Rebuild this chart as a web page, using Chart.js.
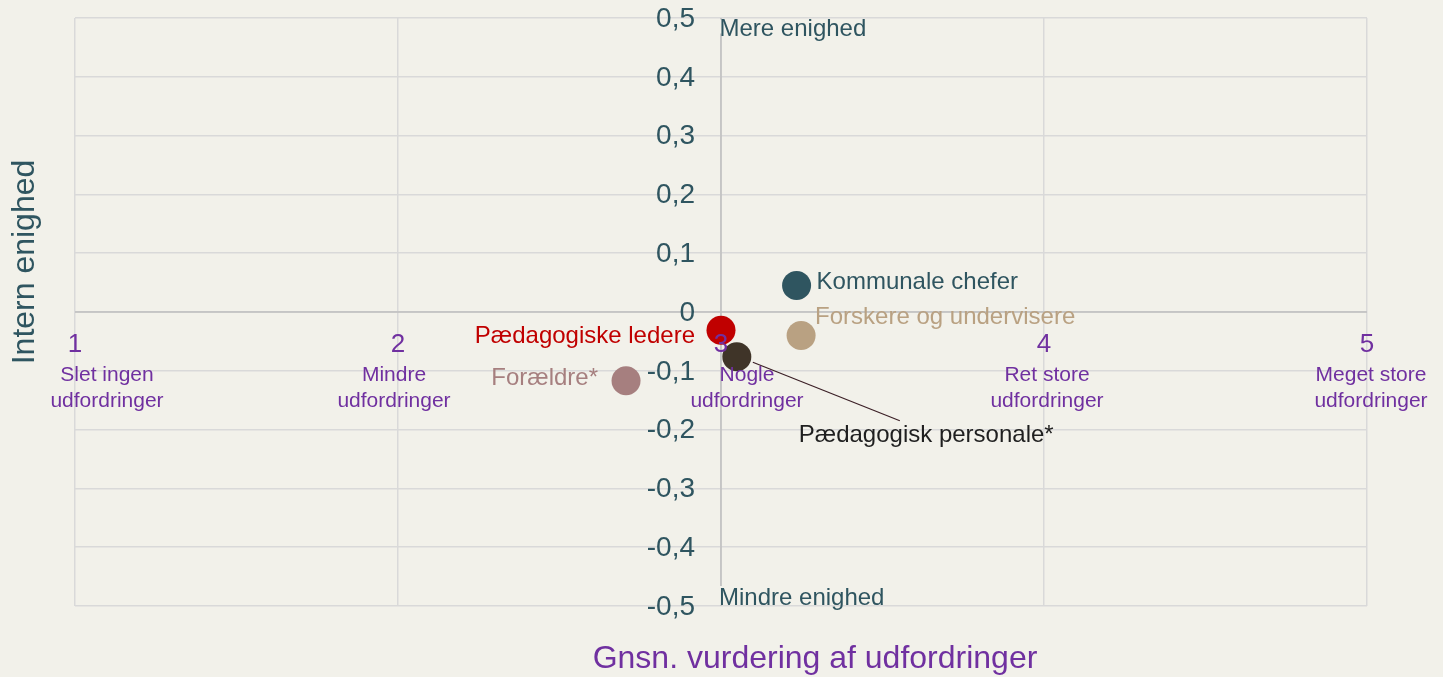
<!DOCTYPE html>
<html lang="da">
<head>
<meta charset="utf-8">
<title>Udfordringer og intern enighed</title>
<script src="https://cdn.jsdelivr.net/npm/chart.js@4.4.1/dist/chart.umd.min.js"></script>
<style>
    html, body { margin: 0; padding: 0; background: #f2f1ea; }
    #wrap { width: 1443px; height: 677px; position: relative; }
</style>
</head>
<body>
<div id="wrap"><canvas id="scatter"></canvas></div>
<script>
// Grupper og deres placering (gnsn. vurdering, intern enighed)
const groups = ['Kommunale chefer', 'Forskere og undervisere', 'Pædagogiske ledere', 'Pædagogisk personale*', 'Forældre*'];
const challengeScores = [3.234, 3.248, 3.0, 3.049, 2.706];
const agreementScores = [0.045, -0.040, -0.031, -0.076, -0.117];

const xTicks = [1, 2, 3, 4, 5];
const xTickNames = [['Slet ingen', 'udfordringer'], ['Mindre', 'udfordringer'], ['Nogle', 'udfordringer'], ['Ret store', 'udfordringer'], ['Meget store', 'udfordringer']];
const yTicks = [0.5, 0.4, 0.3, 0.2, 0.1, 0, -0.1, -0.2, -0.3, -0.4, -0.5];

const dotColors = ['#2f5560', '#b9a182', '#c00000', '#3f3428', '#a67f7f'];
const textColors = ['#2f5560', '#b9a182', '#c00000', '#1f1f1f', '#a67f7f'];
// label offsets from the dot centre: [dx, dy, align]
const labelPlacement = [[20, -3, 'left'], [14, -18, 'left'], [-26, 6, 'right'], [62, 79, 'left'], [-28, -2, 'right']];
const subNudge = [32, -4, 26, 3, 4];

const FONT = '"Liberation Sans", Arial, Helvetica, sans-serif';
const BG = '#f2f1ea';
const TEAL = '#2f5560';
const PURPLE = '#7030a0';

function fmt(v) {
    if (Math.abs(v) < 1e-9) return '0';
    return v.toFixed(1).replace('.', ',');
}

const annotations = {
    id: 'annotations',
    beforeDatasetsDraw(chart) {
        const { ctx, scales: { x, y } } = chart;
        const x3 = x.getPixelForValue(3);

        // centre axes
        ctx.save();
        ctx.strokeStyle = '#bfbfbf';
        ctx.lineWidth = 1.5;
        ctx.beginPath();
        ctx.moveTo(x3, y.getPixelForValue(0.5));
        ctx.lineTo(x3, y.getPixelForValue(-0.5));
        ctx.moveTo(x.getPixelForValue(1), y.getPixelForValue(0));
        ctx.lineTo(x.getPixelForValue(5), y.getPixelForValue(0));
        ctx.stroke();

        // boxed captions at the ends of the vertical axis
        ctx.font = '24px ' + FONT;
        ctx.textAlign = 'left';
        ctx.textBaseline = 'middle';
        const top = y.getPixelForValue(0.5);
        const bottom = y.getPixelForValue(-0.5);
        let w = ctx.measureText('Mere enighed').width;
        ctx.fillStyle = BG;
        ctx.fillRect(x3 - 3, top + 1.5, w + 6, 14);
        ctx.fillStyle = TEAL;
        ctx.fillText('Mere enighed', x3 - 1.5, top + 11);
        w = ctx.measureText('Mindre enighed').width;
        ctx.fillStyle = BG;
        ctx.fillRect(x3 - 3, bottom - 20, w + 6, 19);
        ctx.fillStyle = TEAL;
        ctx.fillText('Mindre enighed', x3 - 2, bottom - 8);

        // leader line to the personale label
        const px = x.getPixelForValue(challengeScores[3]);
        const py = y.getPixelForValue(agreementScores[3]);
        ctx.strokeStyle = '#3b1f26';
        ctx.lineWidth = 1.2;
        ctx.beginPath();
        ctx.moveTo(px + 16, py + 5.5);
        ctx.lineTo(px + 163, py + 64);
        ctx.stroke();
        ctx.restore();
    },
    afterDatasetsDraw(chart) {
        const { ctx, scales: { x, y } } = chart;
        const x3 = x.getPixelForValue(3);
        const y0 = y.getPixelForValue(0);
        ctx.save();

        // y tick labels along the centre axis
        ctx.font = '28px ' + FONT;
        ctx.fillStyle = TEAL;
        ctx.textAlign = 'right';
        ctx.textBaseline = 'middle';
        yTicks.forEach(v => ctx.fillText(fmt(v), x3 - 26, y.getPixelForValue(v) + 1));

        // x tick labels below the zero line
        ctx.fillStyle = PURPLE;
        ctx.textAlign = 'center';
        xTicks.forEach((v, i) => {
            const px = x.getPixelForValue(v);
            ctx.font = '26px ' + FONT;
            ctx.fillText(String(v), px, y0 + 33);
            ctx.font = '21px ' + FONT;
            xTickNames[i].forEach((line, j) => ctx.fillText(line, px + subNudge[i], y0 + 63 + j * 26));
        });

        // point labels
        ctx.font = '24px ' + FONT;
        groups.forEach((g, i) => {
            const [dx, dy, align] = labelPlacement[i];
            ctx.fillStyle = textColors[i];
            ctx.textAlign = align;
            ctx.fillText(g, x.getPixelForValue(challengeScores[i]) + dx, y.getPixelForValue(agreementScores[i]) + dy);
        });

        // axis titles
        ctx.font = '32px ' + FONT;
        ctx.fillStyle = PURPLE;
        ctx.textAlign = 'center';
        ctx.fillText('Gnsn. vurdering af udfordringer', 815, 659);

        ctx.translate(25, 262);
        ctx.rotate(-Math.PI / 2);
        ctx.fillStyle = TEAL;
        ctx.fillText('Intern enighed', 0, 0);
        ctx.restore();
    }
};

const points = groups.map((g, i) => ({ x: challengeScores[i], y: agreementScores[i] }));

new Chart(document.getElementById('scatter'), {
    type: 'scatter',
    data: {
        datasets: [{
            label: 'Grupper',
            data: points,
            backgroundColor: dotColors,
            borderWidth: 0,
            pointRadius: 14.5,
            pointHoverRadius: 14.5
        }]
    },
    options: {
        responsive: true,
        maintainAspectRatio: false,
        animation: false,
        layout: { padding: { left: 75, right: 76, top: 18, bottom: 71 } },
        plugins: { legend: { display: false }, tooltip: { enabled: false } },
        scales: {
            x: {
                type: 'linear',
                min: 1, max: 5,
                ticks: { display: false, stepSize: 1 },
                grid: { color: '#d9d9d9', lineWidth: 1.5, drawTicks: false },
                border: { display: false }
            },
            y: {
                type: 'linear',
                min: -0.5, max: 0.5,
                ticks: { display: false, stepSize: 0.1 },
                grid: { color: '#d9d9d9', lineWidth: 1.5, drawTicks: false },
                border: { display: false }
            }
        }
    },
    plugins: [annotations]
});
</script>
</body>
</html>
